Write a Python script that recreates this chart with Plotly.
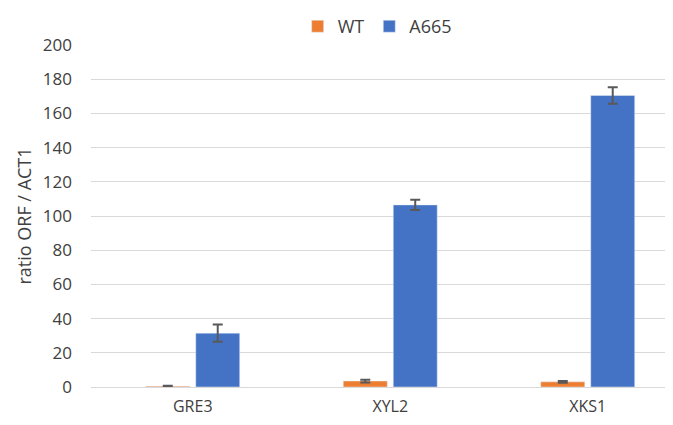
import plotly.graph_objects as go

categories = ["GRE3", "XYL2", "XKS1"]
wt_values = [0.5, 3.5, 3.0]
wt_errors = [0.3, 0.8, 0.5]
a665_values = [31.5, 106.5, 170.5]
a665_errors = [5.0, 3.0, 4.8]

fig = go.Figure()
fig.add_trace(go.Bar(
    name="WT", x=categories, y=wt_values,
    marker=dict(color="#ED7D31"),
    error_y=dict(type="data", array=wt_errors, color="#595959", thickness=2, width=5),
))
fig.add_trace(go.Bar(
    name="A665", x=categories, y=a665_values,
    marker=dict(color="#4472C4"),
    error_y=dict(type="data", array=a665_errors, color="#595959", thickness=2, width=5),
))

font_family = "Open Sans, Liberation Sans, sans-serif"
x0 = -0.5 - 3 / 197.5
fig.update_layout(
    width=673, height=425,
    barmode="group", bargap=0.494, bargroupgap=0.12,
    plot_bgcolor="white", paper_bgcolor="white",
    margin=dict(l=83, r=0, t=29, b=46),
    font=dict(family=font_family, size=15, color="#404040"),
    legend=dict(orientation="h", x=0.485, xanchor="center", y=1.054, yanchor="middle",
                font=dict(size=18, color="#404040"), traceorder="normal",
                itemwidth=30, tracegroupgap=0),
    xaxis=dict(range=[x0, x0 + 590 / 197.5], showline=True, linecolor="#d9d9d9",
               linewidth=1, ticks="", tickfont=dict(size=16, color="#404040"),
               ticklabelstandoff=5, showgrid=False, automargin=False),
    yaxis=dict(range=[0, 200], dtick=20, showgrid=True, gridcolor="#d9d9d9",
               gridwidth=1, zeroline=False, showline=False, automargin=False,
               tickfont=dict(size=17, color="#404040"), ticklabelstandoff=18,
               title=dict(text="ratio ORF / ACT1", font=dict(size=18, color="#404040"),
                          standoff=6)),
)

fig.write_html("out.html")
